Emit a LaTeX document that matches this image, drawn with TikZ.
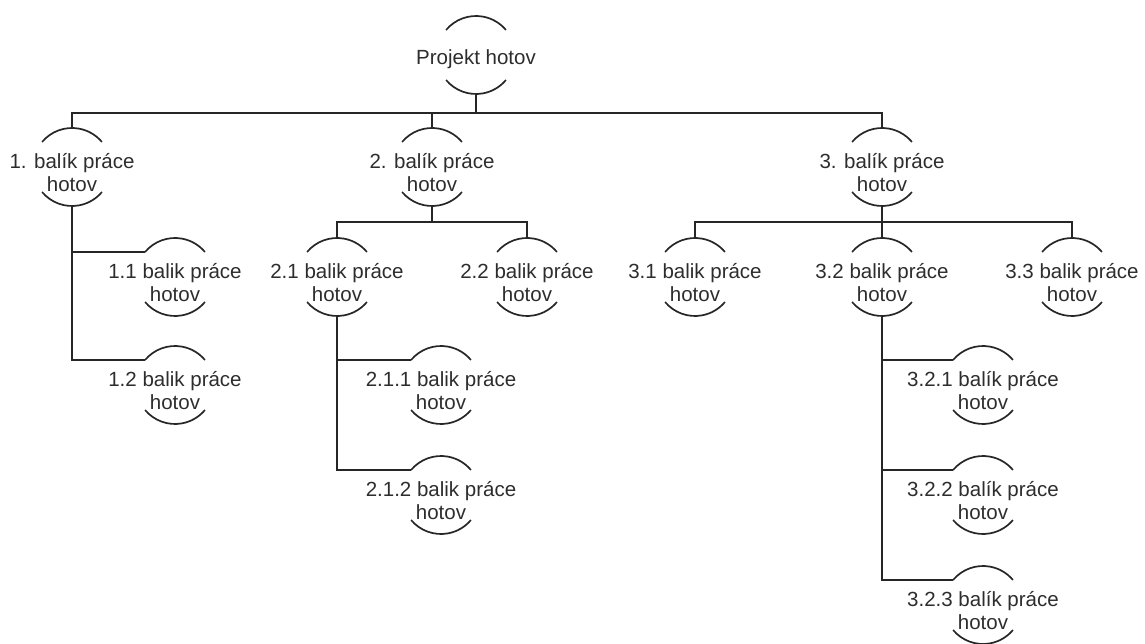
\documentclass[tikz,border=0pt]{standalone}
\usepackage{fontspec}
\setmainfont{Liberation Sans}
\usetikzlibrary{positioning}
\definecolor{inkgray}{RGB}{45,45,45}

\tikzset{
  milestone/.style={circle, minimum size=78pt, inner sep=0pt, outer sep=0pt},
  caption/.style={align=center, text=inkgray, font=\fontsize{20.5}{23}\selectfont, yshift=-6pt},
  link/.style={line width=1.7pt, black!85},
}

\begin{document}
\begin{tikzpicture}[x=1pt, y=1pt]
  \useasboundingbox (0,0) rectangle (1145,643);

  % milestones
  \node[milestone, label={[caption,yshift=2pt]center:Projekt hotov}] (done) at (476,588) {};
  \node[milestone, label={[caption]center:1. balík práce\\hotov}] (wp1) at (72,476) {};
  \node[milestone, label={[caption]center:2. balík práce\\hotov}] (wp2) at (432,476) {};
  \node[milestone, label={[caption]center:3. balík práce\\hotov}] (wp3) at (882,476) {};

  \node[milestone, label={[caption]center:1.1 balik práce\\hotov}] (wp11) at (175,366) {};
  \node[milestone, label={[caption]center:1.2 balik práce\\hotov}] (wp12) at (175,258) {};

  \node[milestone, label={[caption]center:2.1 balik práce\\hotov}] (wp21) at (337,366) {};
  \node[milestone, label={[caption]center:2.2 balik práce\\hotov}] (wp22) at (527,366) {};
  \node[milestone, label={[caption]center:2.1.1 balik práce\\hotov}] (wp211) at (441,258) {};
  \node[milestone, label={[caption]center:2.1.2 balik práce\\hotov}] (wp212) at (441,148) {};

  \node[milestone, label={[caption]center:3.1 balik práce\\hotov}] (wp31) at (695,366) {};
  \node[milestone, label={[caption]center:3.2 balik práce\\hotov}] (wp32) at (882,366) {};
  \node[milestone, label={[caption]center:3.3 balik práce\\hotov}] (wp33) at (1072,366) {};
  \node[milestone, label={[caption]center:3.2.1 balík práce\\hotov}] (wp321) at (983,258) {};
  \node[milestone, label={[caption]center:3.2.2 balík práce\\hotov}] (wp322) at (983,148) {};
  \node[milestone, label={[caption]center:3.2.3 balík práce\\hotov}] (wp323) at (983,38) {};

  % half circles
  \foreach \n in {done,wp1,wp2,wp3,wp11,wp12,wp21,wp22,wp211,wp212,wp31,wp32,wp33,wp321,wp322,wp323} {
    \draw[link] (\n.140) arc[start angle=140, end angle=40, radius=39pt];
    \draw[link] (\n.-140) arc[start angle=-140, end angle=-40, radius=39pt];
  }

  % top level
  \draw[link] (done.south) -- ++(0,-19) coordinate (bus1);
  \draw[link] (wp1.north) |- (bus1) -| (wp3.north);
  \draw[link] (wp2.north) -- (wp2.north |- bus1);

  % second level
  \draw[link] (wp2.south) -- ++(0,-16) coordinate (bus2);
  \draw[link] (wp21.north) |- (bus2) -| (wp22.north);
  \draw[link] (wp3.south) -- ++(0,-16) coordinate (bus3);
  \draw[link] (wp31.north) |- (bus3) -| (wp33.north);
  \draw[link] (wp32.north) -- (wp32.north |- bus3);

  % side branches
  \draw[link] (wp1.south) |- (wp11.140);
  \draw[link] (wp1.south) |- (wp12.140);
  \draw[link] (wp21.south) |- (wp211.140);
  \draw[link] (wp21.south) |- (wp212.140);
  \draw[link] (wp32.south) |- (wp321.140);
  \draw[link] (wp32.south) |- (wp322.140);
  \draw[link] (wp32.south) |- (wp323.140);
\end{tikzpicture}
\end{document}
